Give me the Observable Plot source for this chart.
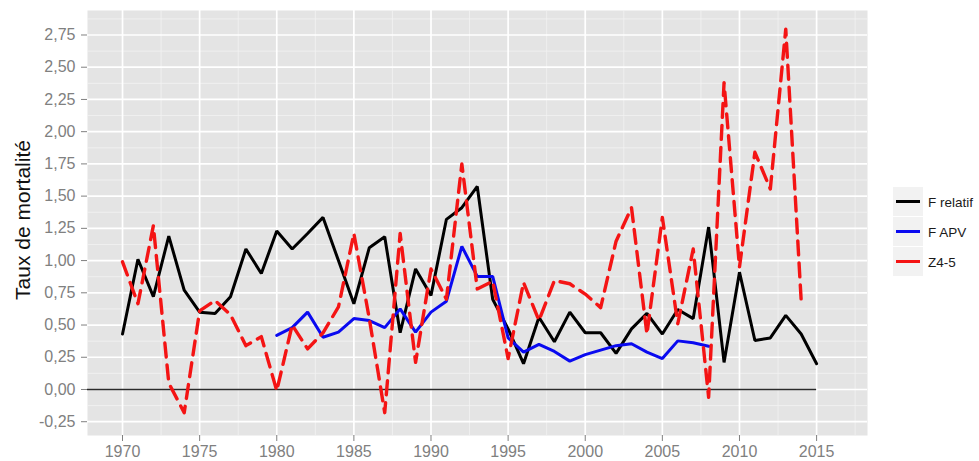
<!DOCTYPE html>
<html>
<head>
<meta charset="utf-8">
<script src="https://cdn.jsdelivr.net/npm/d3@7"></script>
<script src="https://cdn.jsdelivr.net/npm/@observablehq/plot@0.6"></script>
<style>
  html, body { margin: 0; padding: 0; background: #fff; }
  #chart { position: relative; width: 979px; height: 461px; font-family: "Liberation Sans", Arial, sans-serif; }
  #ytitle { position: absolute; left: 23px; top: 220px; transform: translate(-50%, -50%) rotate(-90deg);
            font-size: 21px; color: #111; white-space: nowrap; }
  #legend { position: absolute; left: 893px; top: 187px; }
  .key { display: flex; align-items: center; height: 30px; }
  .swatch { width: 30px; height: 29px; background: #f2f2f2; border-bottom: 1px solid #fff; }
  .label { margin-left: 5px; font-size: 13.5px; color: #1a1a1a; }
</style>
</head>
<body>
<div id="chart"></div>
<script>
// Mortality rate series by year
const years = d3.range(1970, 2016);
const fRelatif = [
  0.43, 1.01, 0.72, 1.19, 0.77, 0.60, 0.59, 0.72, 1.09, 0.90,
  1.23, 1.09, 1.21, 1.335, 1.00, 0.665, 1.10, 1.185, 0.44, 0.935,
  0.73, 1.32, 1.41, 1.575, 0.70, 0.47, 0.20, 0.56, 0.37, 0.60,
  0.44, 0.44, 0.28, 0.47, 0.59, 0.43, 0.62, 0.55, 1.26, 0.21,
  0.91, 0.38, 0.40, 0.575, 0.43, 0.20
];

const apvYears = d3.range(1980, 2009);
const fApv = [
  0.42, 0.48, 0.60, 0.405, 0.445, 0.55, 0.535, 0.48, 0.625, 0.445,
  0.60, 0.685, 1.11, 0.877, 0.877, 0.40, 0.29, 0.35, 0.295, 0.22,
  0.27, 0.305, 0.34, 0.355, 0.29, 0.24, 0.377, 0.362, 0.335
];

const zYears = d3.range(1970, 2015);
const z45 = [
  0.99, 0.665, 1.27, 0.05, -0.18, 0.61, 0.69, 0.58, 0.34, 0.41,
  -0.01, 0.50, 0.315, 0.44, 0.64, 1.21, 0.55, -0.18, 1.21, 0.21,
  0.935, 0.70, 1.75, 0.78, 0.84, 0.24, 0.83, 0.535, 0.845, 0.82,
  0.74, 0.635, 1.15, 1.41, 0.43, 1.335, 0.51, 1.09, -0.06, 2.38,
  0.95, 1.84, 1.555, 2.795, 0.69
];

const seriesNames = ["F relatif", "F APV", "Z4-5"];
const seriesColors = ["#000000", "#0a0af0", "#f41414"];

const xTicks = [1970, 1975, 1980, 1985, 1990, 1995, 2000, 2005, 2010, 2015];
const yTicks = [-0.25, 0, 0.25, 0.5, 0.75, 1, 1.25, 1.5, 1.75, 2, 2.25, 2.5, 2.75];
const xMinor = xTicks.map(t => t + 2.5);
const yMinor = [-0.375, ...yTicks.map(t => t + 0.125)];

const xDomain = [1967.73, 2018.3];
const yDomain = [-0.357, 2.94];

const rows = (xs, vs) => xs.map((x, i) => ({year: x, value: vs[i]}));
const relatifData = rows(years, fRelatif);
const apvData = rows(apvYears, fApv);
const zData = rows(zYears, z45);

const fmtComma = v => v.toFixed(2).replace(".", ",");

const chart = Plot.plot({
  width: 979,
  height: 461,
  marginLeft: 87,
  marginRight: 112,
  marginTop: 10,
  marginBottom: 26,
  style: {fontFamily: '"Liberation Sans", Arial, sans-serif', fontSize: "16px", color: "#808080", background: "#fff"},
  x: {domain: xDomain},
  y: {domain: yDomain},
  marks: [
    Plot.frame({fill: "#e4e4e4", stroke: "none"}),
    Plot.ruleX(xMinor.filter(v => v < xDomain[1]), {stroke: "#f2f2f2", strokeWidth: 0.8}),
    Plot.ruleY(yMinor.filter(v => v > yDomain[0] && v < yDomain[1]), {stroke: "#f2f2f2", strokeWidth: 0.8}),
    Plot.ruleX(xTicks, {stroke: "#ffffff", strokeWidth: 1.7}),
    Plot.ruleY(yTicks, {stroke: "#ffffff", strokeWidth: 1.7}),
    Plot.axisX({ticks: xTicks, tickSize: 6, tickPadding: 4, tickFormat: d => String(d), label: null, fontSize: 16}),
    Plot.axisY({ticks: yTicks, tickSize: 6, tickPadding: 6, tickFormat: fmtComma, label: null, fontSize: 16}),
    // zero reference line running to the last observed year
    Plot.ruleY([{y: 0, x1: xDomain[0], x2: d3.max(years)}], {y: "y", x1: "x1", x2: "x2", stroke: "#2a2a2a", strokeWidth: 1.6}),
    Plot.line(relatifData, {x: "year", y: "value", stroke: seriesColors[0], strokeWidth: 3, strokeLinejoin: "miter"}),
    Plot.line(apvData, {x: "year", y: "value", stroke: seriesColors[1], strokeWidth: 3, strokeLinejoin: "miter"}),
    Plot.line(zData, {x: "year", y: "value", stroke: seriesColors[2], strokeWidth: 3.4, strokeDasharray: "14,8"})
  ]
});

const root = document.getElementById("chart");
root.appendChild(chart);

const title = document.createElement("div");
title.id = "ytitle";
title.textContent = "Taux de mortalité";
root.appendChild(title);

const legend = document.createElement("div");
legend.id = "legend";
seriesNames.forEach((name, i) => {
  const key = document.createElement("div");
  key.className = "key";
  key.innerHTML = `<svg class="swatch" width="30" height="29"><line x1="3" x2="27" y1="14.5" y2="14.5" stroke="${seriesColors[i]}" stroke-width="3"/></svg><span class="label">${name}</span>`;
  legend.appendChild(key);
});
root.appendChild(legend);
</script>
</body>
</html>
